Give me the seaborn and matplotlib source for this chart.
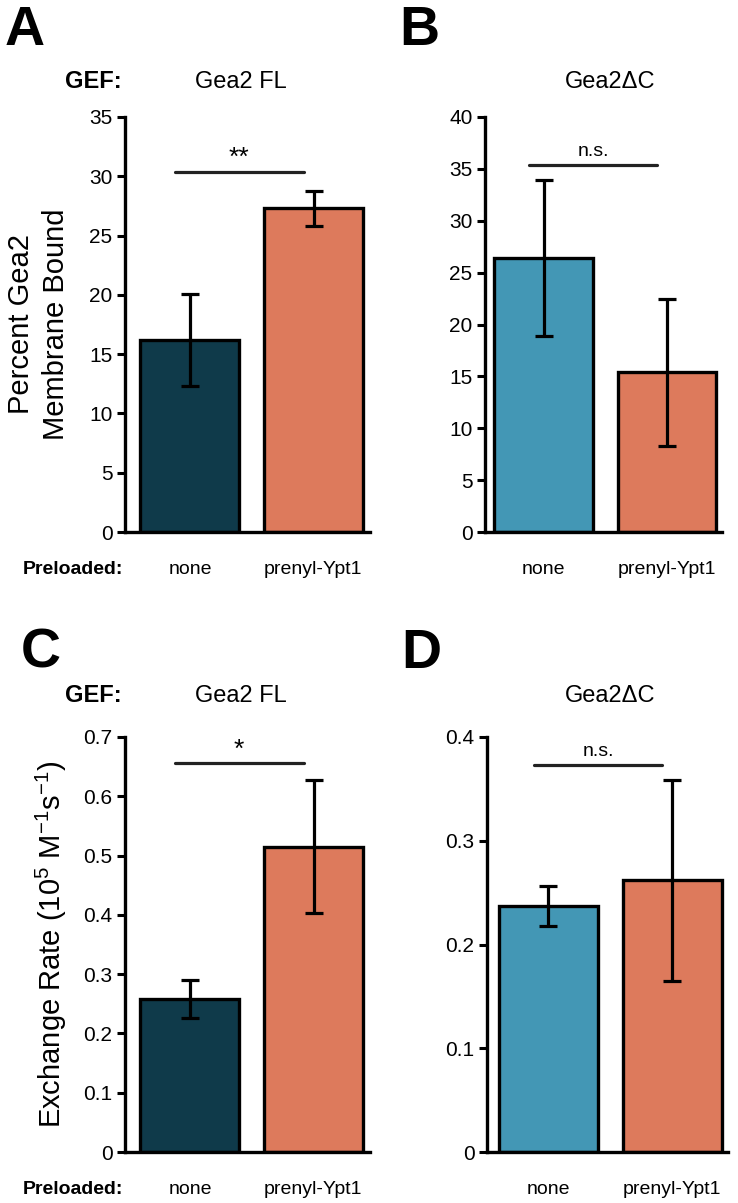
import numpy as np
import pandas as pd
import matplotlib
matplotlib.use("Agg")
import matplotlib.pyplot as plt
import seaborn as sns

# ---- data ----
preload = ["none", "prenyl-Ypt1"]

bound_fl = [16.2, 27.3]
bound_fl_err = [3.9, 1.5]
bound_dc = [26.4, 15.4]
bound_dc_err = [7.5, 7.1]

rate_fl = [0.258, 0.515]
rate_fl_err = [0.032, 0.112]
rate_dc = [0.237, 0.262]
rate_dc_err = [0.019, 0.097]

dark = "#0f3a4a"
orange = "#dd7a5c"
blue = "#4397b5"

sns.set_theme(style="white")
plt.rcParams['font.family'] = ['Liberation Sans', 'DejaVu Sans']
plt.rcParams['mathtext.fontset'] = 'custom'
plt.rcParams['mathtext.rm'] = 'Liberation Sans'
plt.rcParams['mathtext.default'] = 'regular'
plt.rcParams['text.color'] = 'black'
plt.rcParams['axes.labelcolor'] = 'black'
plt.rcParams['ytick.color'] = 'black'

fig = plt.figure(figsize=(7.38, 12.03), dpi=100)

W, H = 738, 1203


def box(l, r, t, b):
    return [l / W, 1 - b / H, (r - l) / W, (b - t) / H]


def panel(rect, vals, errs, colors, ymax, step, sig, sig_y, xlim, fmt):
    ax = fig.add_axes(rect)
    df = pd.DataFrame({"preload": preload, "val": vals})
    sns.barplot(data=df, x="preload", y="val", hue="preload", palette=colors,
                errorbar=None, width=0.8, edgecolor="black", linewidth=2.4,
                saturation=1, legend=False, ax=ax)
    ax.errorbar([0, 1], vals, yerr=errs, fmt="none", ecolor="black",
                elinewidth=2.3, capsize=6.5, capthick=2.3, zorder=5)
    ax.plot([-0.12, 0.92], [sig_y, sig_y], color="#222222", lw=2.3, clip_on=False)
    fs = 19 if "*" in sig else 14
    ax.text(0.4, sig_y + ymax * (0.004 if "*" in sig else 0.012), sig,
            ha="center", va="bottom", fontsize=fs)
    ax.set_ylim(0, ymax)
    ax.set_xlim(*xlim)
    ticks = np.arange(0, ymax + step / 2, step)
    ax.set_yticks(ticks)
    ax.set_yticklabels([fmt(t) for t in ticks], fontsize=15)
    ax.set_xticks([])
    ax.set_xlabel("")
    ax.set_ylabel("")
    for s in ["top", "right"]:
        ax.spines[s].set_visible(False)
    for s in ["left", "bottom"]:
        ax.spines[s].set_linewidth(2.4)
        ax.spines[s].set_color("black")
    ax.tick_params(axis="y", left=True, length=6, width=2.2, color="black", pad=3)
    return ax


ifmt = lambda t: f"{int(round(t))}"
ffmt = lambda t: "0" if t == 0 else f"{t:.1f}"

axA = panel(box(125, 370, 117, 532), bound_fl, bound_fl_err, [dark, orange],
            35, 5, "**", 30.4, (-0.52, 1.455), ifmt)
axB = panel(box(485, 722, 117, 532), bound_dc, bound_dc_err, [blue, orange],
            40, 5, "n.s.", 35.4, (-0.476, 1.447), ifmt)
axC = panel(box(125, 370, 737, 1152), rate_fl, rate_fl_err, [dark, orange],
            0.7, 0.1, "*", 0.656, (-0.52, 1.455), ffmt)
axD = panel(box(487, 728, 737, 1152), rate_dc, rate_dc_err, [blue, orange],
            0.4, 0.1, "n.s.", 0.373, (-0.496, 1.45), ffmt)

axA.set_ylabel("Percent Gea2\nMembrane Bound", fontsize=21, labelpad=14, linespacing=1.3)
axC.set_ylabel("Exchange Rate (10$^{5}$ M$^{-1}$s$^{-1}$)", fontsize=21, labelpad=10)

# panel letters
for letter, x, y in [("A", 5, 45), ("B", 399, 45), ("C", 21, 668), ("D", 401, 668)]:
    fig.text(x / W, 1 - y / H, letter, fontsize=40, fontweight="bold",
             ha="left", va="baseline")

# headers
for y in [82, 696]:
    fig.text(122 / W, 1 - y / H, "GEF:", fontsize=17, fontweight="bold", ha="right", va="center")
    fig.text(241 / W, 1 - y / H, "Gea2 FL", fontsize=17, ha="center", va="center")
    fig.text(610 / W, 1 - y / H, "Gea2ΔC", fontsize=17, ha="center", va="center")

# x labels
for y, cents in [(569, [(190, 313), (543, 667)]), (1189, [(190, 313), (548, 672)])]:
    fig.text(123 / W, 1 - y / H, "Preloaded:", fontsize=14, fontweight="bold", ha="right", va="center")
    for pair in cents:
        for cx, lab in zip(pair, preload):
            fig.text(cx / W, 1 - y / H, lab, fontsize=14, ha="center", va="center")

fig.savefig("out.png", dpi=100)
